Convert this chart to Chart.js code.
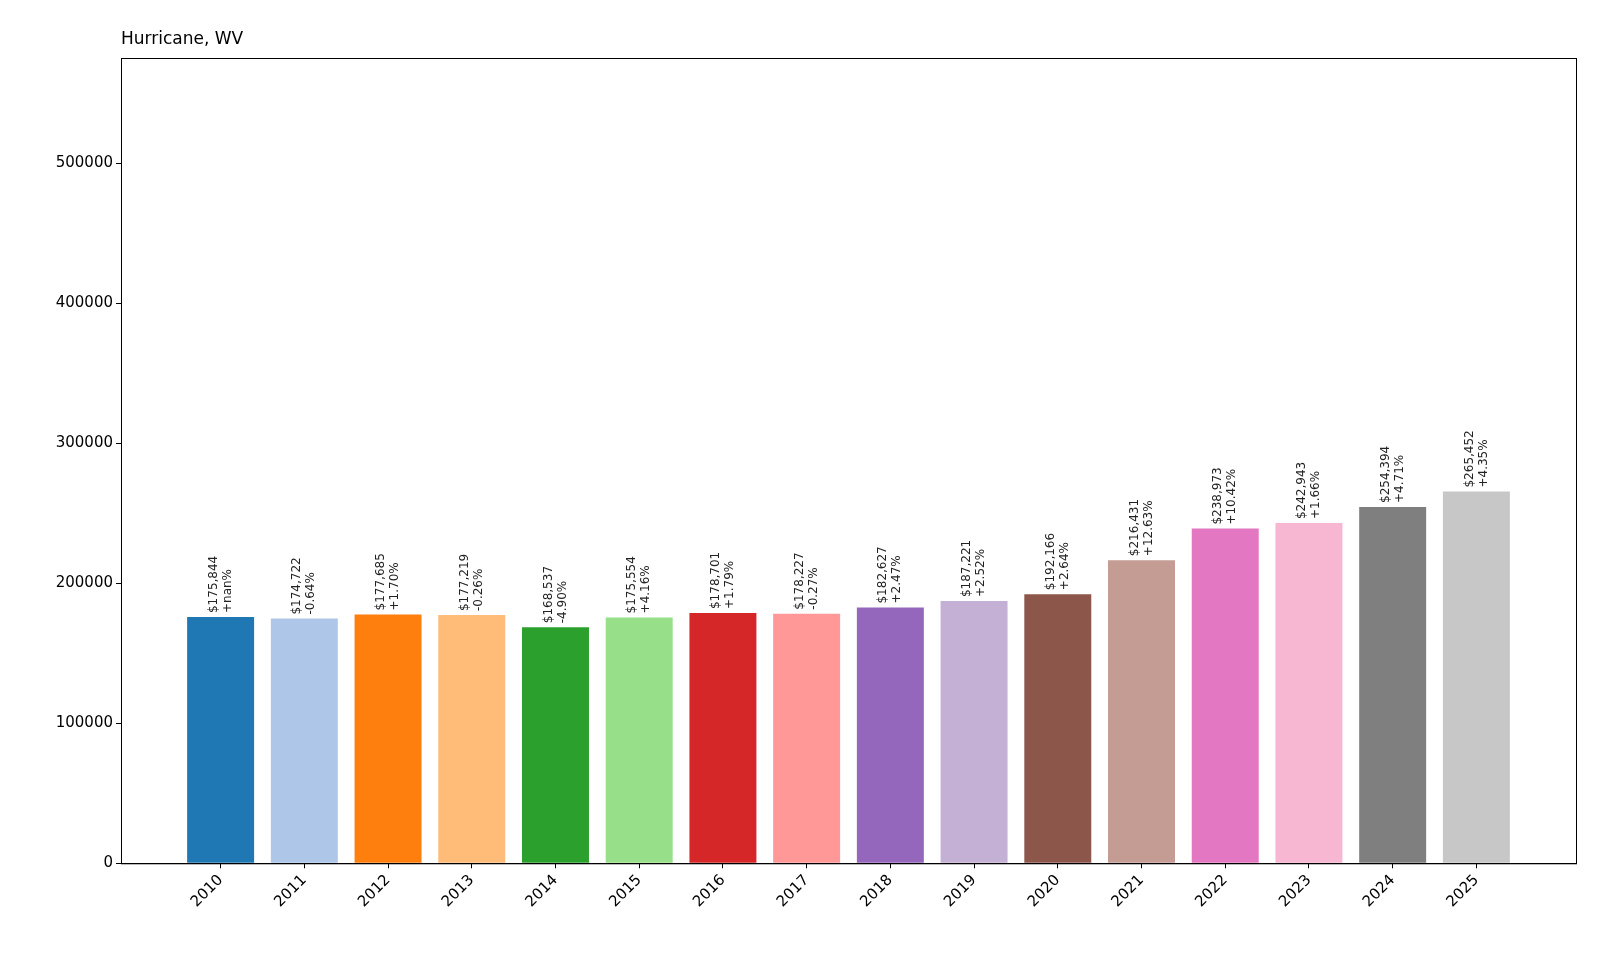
<!DOCTYPE html>
<html><head><script src="https://cdn.jsdelivr.net/npm/chart.js@4"></script>
<style>body{margin:0;background:#fff}#w{width:1600px;height:960px}</style></head>
<body><div id="w"><canvas id="c"></canvas></div>
<script>
const years=["2010","2011","2012","2013","2014","2015","2016","2017","2018","2019","2020","2021","2022","2023","2024","2025"];
const values=[175844,174722,177685,177219,168537,175554,178701,178227,182627,187221,192166,216431,238973,242943,254394,265452];
const changes=["+nan%","-0.64%","+1.70%","-0.26%","-4.90%","+4.16%","+1.79%","-0.27%","+2.47%","+2.52%","+2.64%","+12.63%","+10.42%","+1.66%","+4.71%","+4.35%"];
const colors=["#1f77b4","#aec7e8","#ff7f0e","#ffbb78","#2ca02c","#98df8a","#d62728","#ff9896","#9467bd","#c5b0d5","#8c564b","#c49c94","#e377c2","#f7b6d2","#7f7f7f","#c7c7c7"];
const font="DejaVu Sans";
const labelPlugin={id:'lbl',afterDatasetsDraw(ch){
 const ctx=ch.ctx,meta=ch.getDatasetMeta(0);
 ctx.save();ctx.fillStyle="#222";ctx.font="12px '"+font+"'";ctx.textBaseline="middle";ctx.textAlign="left";
 meta.data.forEach((b,i)=>{
  ctx.save();ctx.translate(b.x,b.y-4);ctx.rotate(-Math.PI/2);
  ctx.fillText("$"+values[i].toLocaleString("en-US"),0,-7);
  ctx.fillText(changes[i],0,7);
  ctx.restore();});
 const a=ch.chartArea;ctx.strokeStyle="#000";ctx.lineWidth=1;ctx.strokeRect(a.left+0.5,a.top+0.5,a.right-a.left,a.bottom-a.top);
 ctx.fillStyle="#000";ctx.font="17px '"+font+"'";ctx.textBaseline="alphabetic";ctx.fillText("Hurricane, WV",a.left,a.top-14);
 ctx.restore();}};
new Chart(document.getElementById('c'),{type:'bar',
 data:{datasets:[{data:values.map((v,i)=>({x:i,y:v})),backgroundColor:colors,barPercentage:0.8,categoryPercentage:1}]},
 options:{responsive:true,maintainAspectRatio:false,animation:false,
  layout:{padding:{top:58,right:24,bottom:46,left:0}},
  plugins:{legend:{display:false},tooltip:{enabled:false},title:{display:false}},
  scales:{
   x:{type:'linear',min:-1.19,max:16.19,offset:false,
    afterBuildTicks(s){s.ticks=years.map((y,i)=>({value:i}));},
    ticks:{autoSkip:false,maxRotation:45,minRotation:45,color:"#000",font:{family:font,size:15},callback:(v)=>years[v]},
    grid:{display:true,offset:false,drawOnChartArea:false,tickLength:5,color:"#000"},border:{color:"#000"}},
   y:{min:0,max:575000,
    afterBuildTicks(s){s.ticks=[0,100000,200000,300000,400000,500000].map(v=>({value:v}));},
    afterFit(s){s.width=121;},
    ticks:{color:"#000",font:{family:font,size:15},callback:v=>String(v)},
    grid:{display:true,drawOnChartArea:false,tickLength:5,color:"#000"},border:{color:"#000"}}}},
 plugins:[labelPlugin]});
</script></body></html>
